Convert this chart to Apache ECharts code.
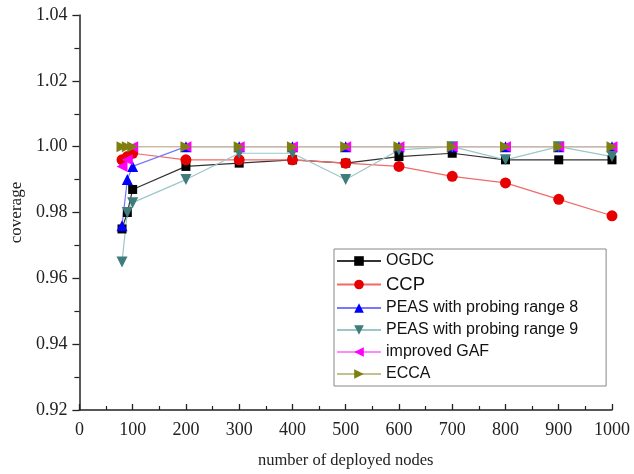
<!DOCTYPE html>
<html><head><meta charset="utf-8">
<script src="https://cdn.jsdelivr.net/npm/echarts@6/dist/echarts.min.js"></script>
<style>html,body{margin:0;padding:0;background:#fff}#c{width:634px;height:474px}</style>
</head><body><div id="c"></div>
<script>
const xNodes = [80, 90, 100, 200, 300, 400, 500, 600, 700, 800, 900, 1000];
const ogdc  = [0.975, 0.980, 0.987, 0.994, 0.995, 0.996, 0.995, 0.997, 0.998, 0.996, 0.996, 0.996];
const ccp   = [0.996, 0.997, 0.998, 0.996, 0.996, 0.996, 0.995, 0.994, 0.991, 0.989, 0.984, 0.979];
const peas8 = [0.976, 0.990, 0.994, 1.000, 1.000, 1.000, 1.000, 1.000, 1.000, 1.000, 1.000, 1.000];
const peas9 = [0.965, 0.980, 0.983, 0.990, 0.998, 0.998, 0.990, 0.999, 1.000, 0.996, 1.000, 0.997];
const gaf   = [0.994, 0.996, 1.000, 1.000, 1.000, 1.000, 1.000, 1.000, 1.000, 1.000, 1.000, 1.000];
const ecca  = [1.000, 1.000, 1.000, 1.000, 1.000, 1.000, 1.000, 1.000, 1.000, 1.000, 1.000, 1.000];
const names = ['OGDC', 'CCP', 'PEAS with probing range 8', 'PEAS with probing range 9', 'improved GAF', 'ECCA'];

function pairs(v){ return xNodes.map((x,i)=>[x,v[i]]); }
function mk(name, data, symbol, rotate, mcol, lcol, size){
  return {name, type:'line', data:pairs(data), symbol, symbolRotate:rotate, symbolSize:size,
    itemStyle:{color:mcol}, lineStyle:{color:lcol, width:1.2}, emphasis:{disabled:true}, animation:false};
}
const chart = echarts.init(document.getElementById('c'));
const serif = 'Liberation Serif';
chart.setOption({
  backgroundColor:'#fff',
  grid:{left:79, right:22, top:15, bottom:58},
  xAxis:{type:'value', min:0, max:1000, interval:100,
    name:'number of deployed nodes', nameLocation:'middle', nameGap:42,
    nameTextStyle:{fontFamily:serif, fontSize:16.5, color:'#222'},
    axisLine:{onZero:false, lineStyle:{color:'#222', width:1.5}},
    axisTick:{show:true, inside:true, length:6, lineStyle:{color:'#222', width:1.3}},
    minorTick:{show:true, splitNumber:2, length:4, lineStyle:{color:'#222', width:1.2}},
    axisLabel:{fontFamily:serif, fontSize:18, color:'#222', margin:11, formatter:v=>String(v)},
    splitLine:{show:false}},
  yAxis:{type:'value', min:0.92, max:1.04, interval:0.02,
    name:'coverage', nameLocation:'middle', nameGap:49,
    nameTextStyle:{fontFamily:serif, fontSize:17, color:'#222'},
    axisLine:{show:true, lineStyle:{color:'#222', width:1.5}},
    axisTick:{show:true, length:7, lineStyle:{color:'#222', width:1.3}},
    minorTick:{show:true, splitNumber:2, length:5, lineStyle:{color:'#222', width:1.2}},
    axisLabel:{fontFamily:serif, fontSize:18, color:'#222', margin:12, formatter:v=>v.toFixed(2)},
    splitLine:{show:false}},
  legend:{orient:'vertical', left:334, top:249,
    itemWidth:44, itemHeight:12, itemGap:6, padding:[4,28,4,2],
    backgroundColor:'#fff', borderColor:'#888', borderWidth:1,
    textStyle:{fontFamily:'Liberation Sans', fontSize:16, lineHeight:16, color:'#111',
      rich:{big:{fontFamily:'Liberation Sans', fontSize:18.5, lineHeight:16, color:'#111'}}},
    formatter:n=> n==='CCP' ? '{big|CCP}' : n,
    data:names},
  series:[
    mk(names[0], ogdc, 'rect', 0, '#000', '#333', 9),
    mk(names[1], ccp, 'circle', 0, '#e60000', '#f06a6a', 11),
    mk(names[2], peas8, 'triangle', 0, '#0000ff', '#7777ff', 11),
    mk(names[3], peas9, 'triangle', 180, '#3f7c7c', '#9cc7c7', 11),
    mk(names[4], gaf, 'triangle', 90, '#ff00ff', '#ff88ff', 11),
    mk(names[5], ecca, 'triangle', -90, '#7f7f10', '#c2c28e', 11)
  ]
});
</script></body></html>
